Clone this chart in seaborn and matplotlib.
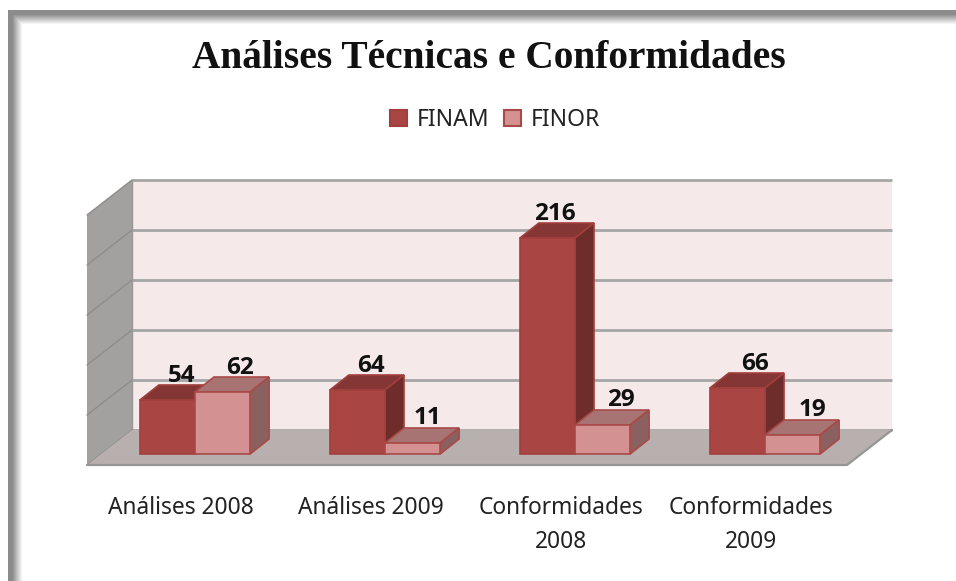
import matplotlib
matplotlib.use("Agg")
import matplotlib.pyplot as plt
import numpy as np
import pandas as pd
import seaborn as sns
from matplotlib.patches import Polygon

categories = ["Análises 2008", "Análises 2009", "Conformidades\n2008", "Conformidades\n2009"]
finam = [54, 64, 216, 66]
finor = [62, 11, 29, 19]
series_names = ["FINAM", "FINOR"]
grid_values = [0, 50, 100, 150, 200, 250]
label_shift = [[14, 17], [13, 15], [7, 18], [18, 20]]

W, H = 956, 581
PX_X0, PX_Y0, PX_STEP = 195, 454, 190  # pixel of category 0 / value 0, pixels per category

BAR_DX, BAR_DY = 19, 15
WALL_DX, WALL_DY = 45, 35
FLOOR_LEFT, FLOOR_RIGHT = 87, 847
FLOOR_FRONT = -11

FACE = {"FINAM": "#A94643", "FINOR": "#D39291"}
TOP = {"FINAM": "#843634", "FINOR": "#A87473"}
SIDE = {"FINAM": "#6E2C2A", "FINOR": "#8A6160"}
EDGE = {"FINAM": "#A23F3D", "FINOR": "#A84A48"}


def px(x):
    return (x - PX_X0) / PX_STEP


def poly(ax, pts, color, edge=None, lw=0, z=1):
    ax.add_patch(Polygon(pts, closed=True, facecolor=color, edgecolor=edge or color, linewidth=lw, zorder=z))


def draw_frame(fig):
    # soft grey shadow along the top and left of the picture
    bg = fig.add_axes([0, 0, 1, 1], zorder=-1)
    xs = np.arange(W)[None, :]
    ys = np.arange(H)[:, None]
    left = np.clip((xs - 12) / 10, 0, 1) * 115 + 140
    top = np.clip((ys - 14) / 10, 0, 1) * 115 + 140
    img = np.minimum(left, top)
    img[:, :8] = 255
    img[:10, :] = 255
    bg.imshow(img, cmap="gray", vmin=0, vmax=255, aspect="auto", interpolation="bilinear")
    bg.axis("off")


def draw_room(ax):
    back_l, back_r = px(FLOOR_LEFT + WALL_DX), px(FLOOR_RIGHT + WALL_DX)
    front_l, front_r = px(FLOOR_LEFT), px(FLOOR_RIGHT)
    back_y = FLOOR_FRONT + WALL_DY
    top_y = back_y + grid_values[-1]

    poly(ax, [(back_l, back_y), (back_r, back_y), (back_r, top_y), (back_l, top_y)], "#F5E9E9", z=1)
    poly(ax, [(front_l, FLOOR_FRONT), (back_l, back_y), (back_l, top_y), (front_l, top_y - WALL_DY)], "#A3A0A0", z=1)
    poly(ax, [(front_l, FLOOR_FRONT), (front_r, FLOOR_FRONT), (back_r, back_y), (back_l, back_y)], "#B8AFAF", z=1.2)

    for v in grid_values:
        y = back_y + v
        ax.plot([back_l, back_r], [y, y], color="#A6A6A6", lw=2, zorder=1.1, solid_capstyle="butt")
        ax.plot([front_l, back_l], [y - WALL_DY, y], color="#8F8C8C", lw=1, zorder=1.1)
    ax.plot([front_l, front_r, back_r], [FLOOR_FRONT, FLOOR_FRONT, back_y], color="#969696", lw=1.6, zorder=1.3)
    ax.plot([back_l, back_l], [back_y, top_y], color="#9A9797", lw=1, zorder=1.1)


def draw_depth(ax, bar, name, z):
    dx = BAR_DX / PX_STEP
    x0, x1 = bar.get_x(), bar.get_x() + bar.get_width()
    h = bar.get_height()
    edge = EDGE[name]
    poly(ax, [(x0, h), (x1, h), (x1 + dx, h + BAR_DY), (x0 + dx, h + BAR_DY)], TOP[name], edge, 1.2, z)
    poly(ax, [(x1, 0), (x1 + dx, BAR_DY), (x1 + dx, h + BAR_DY), (x1, h)], SIDE[name], edge, 1.2, z)


df = pd.DataFrame({
    "categoria": categories * 2,
    "valor": finam + finor,
    "serie": ["FINAM"] * 4 + ["FINOR"] * 4,
})

sns.set_theme(style="white")
plt.rcParams["font.family"] = ["Noto Sans", "DejaVu Sans"]

fig = plt.figure(figsize=(W / 100, H / 100), dpi=100, facecolor="white")
draw_frame(fig)
ax = fig.add_axes([0, 0, 1, 1])
ax.patch.set_alpha(0)

sns.barplot(
    data=df, x="categoria", y="valor", hue="serie", hue_order=series_names,
    palette=FACE, width=0.58, gap=0, saturation=1, ax=ax,
)

ax.set_xlim(px(0), px(W))
ax.set_ylim(PX_Y0 - H, PX_Y0)
ax.axis("off")
draw_room(ax)

for i, (name, cont) in enumerate(zip(series_names, ax.containers)):
    base_z = 3 + i * 2
    for j, bar in enumerate(cont):
        bar.set_edgecolor(EDGE[name])
        bar.set_linewidth(1.2)
        bar.set_zorder(base_z + 1)
        draw_depth(ax, bar, name, base_z)
        cx = bar.get_x() + bar.get_width() / 2 + label_shift[j][i] / PX_STEP
        ax.text(cx, bar.get_height() + BAR_DY + 9.5, str(int(bar.get_height())),
                ha="center", va="center", fontsize=17.5, fontweight="bold",
                family=["Open Sans", "DejaVu Sans"], color="#111111", zorder=10)

for j, cat in enumerate(categories):
    ax.text(j - 14.5 / PX_STEP, PX_Y0 - 496, cat, ha="center", va="top", fontsize=16.4,
            color="#222222", linespacing=1.55, zorder=10)

handles, labels = ax.get_legend_handles_labels()
for h, name in zip(handles, series_names):
    h.set_edgecolor(EDGE[name])
    h.set_linewidth(1.5)
ax.legend(handles, labels, loc="center", bbox_to_anchor=(495 / W, 1 - 120 / H), ncol=2, frameon=False,
          fontsize=16.5, handlelength=0.75, handleheight=0.75, handletextpad=0.4, columnspacing=0.65,
          labelcolor="#222222")

fig.text(489 / W, 1 - 59 / H, "Análises Técnicas e Conformidades", ha="center", va="center",
         fontsize=28.4, fontweight="bold", family=["Liberation Serif", "DejaVu Serif"], color="#111111")

fig.savefig("out.png", dpi=100)
